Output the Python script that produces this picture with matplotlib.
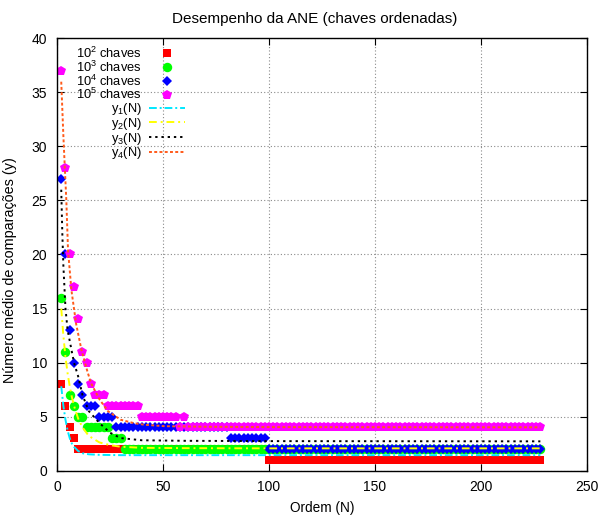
import numpy as np
import matplotlib
matplotlib.use('Agg')
import matplotlib.pyplot as plt

# ---------------- data ----------------
STEP = 2  # orders are sampled every 2

red_start = [2, 4, 6, 8, 10, 100]
red_end   = [2, 4, 6, 8, 98, 228]
red_val   = [8, 6, 4, 3, 2, 1]

green_start = [2, 4, 6, 8, 10, 14, 26, 32]
green_end   = [2, 4, 6, 8, 12, 24, 30, 228]
green_val   = [16, 11, 7, 6, 5, 4, 3, 2]

blue_start = [2, 4, 6, 8, 10, 12, 14, 20, 28, 82, 100]
blue_end   = [2, 4, 6, 8, 10, 12, 18, 26, 80, 98, 228]
blue_val   = [27, 20, 13, 10, 8, 7, 6, 5, 4, 3, 2]

mag_start = [2, 4, 6, 8, 10, 12, 14, 16, 18, 24, 40, 58, 60, 62]
mag_end   = [2, 4, 6, 8, 10, 12, 14, 16, 22, 38, 56, 58, 60, 228]
mag_val   = [37, 28, 20, 17, 14, 11, 10, 8, 7, 6, 5, 4, 5, 4]

# fitted curves y_i(N), read at sample orders
y1_N = [2, 3, 4, 5, 6, 7, 8, 10, 12, 15, 20, 30, 50, 100, 228]
y1_v = [7.8, 6.0, 4.7, 3.7, 3.0, 2.5, 2.2, 1.8, 1.6, 1.5, 1.45, 1.42, 1.42, 1.42, 1.42]

y2_N = [2, 3, 4, 5, 6, 7, 8, 10, 12, 15, 20, 25, 30, 40, 60, 100, 228]
y2_v = [15, 12.5, 10.5, 9, 7.8, 6.8, 6, 4.8, 4, 3.2, 2.6, 2.35, 2.2, 2.1, 2.07, 2.05, 2.05]

y3_N = [2, 2.5, 3, 4, 5, 6, 8, 10, 12, 15, 20, 25, 30, 40, 60, 100, 228]
y3_v = [26, 22, 19, 15, 13, 12, 10, 8.7, 7, 5.5, 4.4, 3.5, 3.0, 2.8, 2.75, 2.72, 2.7]

y4_N = [2, 3, 3.6, 4.4, 5.2, 6.8, 9, 11.5, 14, 16, 20, 24, 30, 36, 41, 51, 70, 100, 228]
y4_v = [36, 31, 28.4, 25, 20.4, 16.7, 13.6, 11.2, 9.4, 8.1, 6.6, 5.5, 4.7, 4.4, 4.24, 4.1, 4.05, 4.02, 4.0]

title = "Desempenho da ANE (chaves ordenadas)"
xlabel = "Ordem (N)"
ylabel = "Número médio de comparações (y)"
series_labels = ["10$^2$ chaves", "10$^3$ chaves", "10$^4$ chaves", "10$^5$ chaves"]
curve_labels = ["y$_1$(N)", "y$_2$(N)", "y$_3$(N)", "y$_4$(N)"]


def expand(starts, ends, vals):
    xs, ys = [], []
    for s, e, v in zip(starts, ends, vals):
        n = np.arange(s, e + 1, STEP)
        xs.extend(n)
        ys.extend([v] * len(n))
    return np.array(xs), np.array(ys)


plt.rcParams['font.family'] = ['Liberation Sans', 'DejaVu Sans']
plt.rcParams['mathtext.default'] = 'regular'

fig = plt.figure(figsize=(5.98, 5.16), dpi=100)
L, R, T, B = 57, 587, 38.5, 470.5
ax = fig.add_axes([L / 598, 1 - B / 516, (R - L) / 598, (B - T) / 516])

ax.set_xlim(0, 250)
ax.set_ylim(0, 40)
ax.set_xticks([0, 50, 100, 150, 200, 250])
ax.set_yticks(range(0, 41, 5))
ax.grid(True, linestyle=(0, (1, 2)), color='#8a8a8a', linewidth=0.8)
ax.set_axisbelow(True)
ax.tick_params(direction='in', top=True, right=True, length=5, width=0.8,
               labelsize=10, pad=7)
for sp in ax.spines.values():
    sp.set_linewidth(1.0)

handles = []
xr, yr = expand(red_start, red_end, red_val)
h, = ax.plot(xr, yr, linestyle='none', marker='s', markersize=6.2,
             color='#ff0000', markeredgewidth=0, label=series_labels[0])
handles.append(h)
xg, yg = expand(green_start, green_end, green_val)
h, = ax.plot(xg, yg, linestyle='none', marker='o', markersize=6.8,
             color='#00ff00', markeredgewidth=0, label=series_labels[1])
handles.append(h)
xb, yb = expand(blue_start, blue_end, blue_val)
h, = ax.plot(xb, yb, linestyle='none', marker='D', markersize=5.3,
             color='#0000ff', markeredgewidth=0, label=series_labels[2])
handles.append(h)
xm, ym = expand(mag_start, mag_end, mag_val)
h, = ax.plot(xm, ym, linestyle='none', marker='p', markersize=7.2,
             color='#ff00ff', markeredgewidth=0, label=series_labels[3])
handles.append(h)

h, = ax.plot(y1_N, y1_v, color='#00e8ff', lw=1.4, linestyle=(0, (4, 1.5, 1, 1.5)),
             label=curve_labels[0])
handles.append(h)
h, = ax.plot(y2_N, y2_v, color='#ffff00', lw=1.4, linestyle=(0, (4, 2, 1, 2)),
             label=curve_labels[1])
handles.append(h)
h, = ax.plot(y3_N, y3_v, color='#000000', lw=1.4, linestyle=(0, (1.2, 2)),
             label=curve_labels[2])
handles.append(h)
h, = ax.plot(y4_N, y4_v, color='#ff5a1a', lw=1.4, linestyle=(0, (1.5, 1.2)),
             label=curve_labels[3])
handles.append(h)

leg = ax.legend(handles=handles, loc='upper right',
                bbox_to_anchor=((185 - L) / (R - L), (B - 45.5) / (B - T)),
                markerfirst=False, frameon=False, fontsize=9.3,
                handlelength=2.8, handletextpad=0.55, labelspacing=-0.1,
                borderpad=0, borderaxespad=0)

fig.text(315 / 598, 1 - 18.5 / 516, title, ha='center', va='center', fontsize=11)
ax.set_xlabel(xlabel, fontsize=9.8, labelpad=5)
ax.set_ylabel(ylabel, fontsize=10.4)
ax.yaxis.set_label_coords((17 - L) / (R - L), (B - 270) / (B - T))

fig.savefig('out.png', dpi=100)
